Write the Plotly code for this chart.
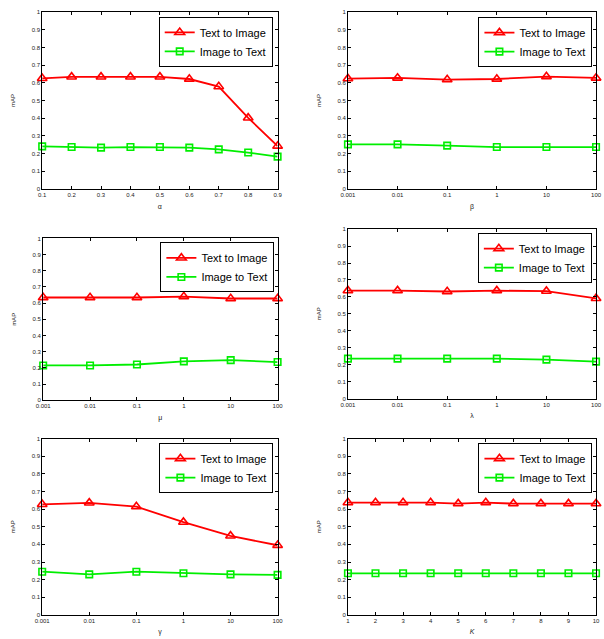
import plotly.graph_objects as go
from plotly.subplots import make_subplots

# ---- data -------------------------------------------------------------
alpha_vals = [0.1, 0.2, 0.3, 0.4, 0.5, 0.6, 0.7, 0.8, 0.9]
alpha_t2i = [0.626, 0.634, 0.634, 0.634, 0.634, 0.622, 0.579, 0.402, 0.243]
alpha_i2t = [0.241, 0.237, 0.234, 0.237, 0.237, 0.234, 0.224, 0.206, 0.183]

log_vals = [0.001, 0.01, 0.1, 1, 10, 100]
log_labels = ["0.001", "0.01", "0.1", "1", "10", "100"]

beta_t2i = [0.624, 0.628, 0.619, 0.622, 0.636, 0.628]
beta_i2t = [0.252, 0.252, 0.245, 0.237, 0.237, 0.237]

mu_t2i = [0.635, 0.635, 0.635, 0.641, 0.629, 0.629]
mu_i2t = [0.215, 0.215, 0.221, 0.240, 0.248, 0.236]

lambda_t2i = [0.637, 0.637, 0.632, 0.637, 0.634, 0.591]
lambda_i2t = [0.236, 0.236, 0.236, 0.236, 0.230, 0.218]

gamma_t2i = [0.627, 0.635, 0.614, 0.526, 0.448, 0.395]
gamma_i2t = [0.245, 0.230, 0.245, 0.236, 0.230, 0.227]

k_vals = [1, 2, 3, 4, 5, 6, 7, 8, 9, 10]
k_t2i = [0.637, 0.637, 0.637, 0.637, 0.631, 0.637, 0.631, 0.631, 0.631, 0.631]
k_i2t = [0.236] * 10

y_ticks = [0, 0.1, 0.2, 0.3, 0.4, 0.5, 0.6, 0.7, 0.8, 0.9, 1]
y_tick_text = ["0", "0.1", "0.2", "0.3", "0.4", "0.5", "0.6", "0.7", "0.8", "0.9", "1"]

# ---- panels -------------------------------------------------------------
W, H = 604, 639
panels = [
    # box px: left, right, top, bottom; legend px: right, top
    dict(row=1, col=1, x=alpha_vals, t2i=alpha_t2i, i2t=alpha_i2t, xlabel="α", kind="lin",
         box=(35, 276, 9.3, 187.7), leg=(271, 14)),
    dict(row=1, col=2, x=log_vals, t2i=beta_t2i, i2t=beta_i2t, xlabel="β", kind="log",
         box=(348, 602, 9.3, 187.7), leg=(598.3, 14.3)),
    dict(row=2, col=1, x=log_vals, t2i=mu_t2i, i2t=mu_i2t, xlabel="μ", kind="log",
         box=(36, 276, 237.7, 401), leg=(272.7, 241.7)),
    dict(row=2, col=2, x=log_vals, t2i=lambda_t2i, i2t=lambda_i2t, xlabel="λ", kind="log",
         box=(348, 602, 228.3, 399.3), leg=(597.7, 232.3)),
    dict(row=3, col=1, x=log_vals, t2i=gamma_t2i, i2t=gamma_i2t, xlabel="γ", kind="log",
         box=(35, 276, 439.7, 617.7), leg=(271.7, 444.3)),
    dict(row=3, col=2, x=k_vals, t2i=k_t2i, i2t=k_i2t, xlabel="<i>K</i>", kind="lin",
         box=(348, 602, 439.7, 617.7), leg=(598.3, 444.3)),
]

RED = "#ff0000"
GREEN = "#00ee00"
FONT = "Liberation Sans, Arial, sans-serif"

fig = make_subplots(rows=3, cols=2)

for i, p in enumerate(panels):
    leg_name = "legend" if i == 0 else f"legend{i + 1}"
    fig.add_trace(go.Scatter(
        x=p["x"], y=p["t2i"], mode="lines+markers", name="Text to Image",
        line=dict(color=RED, width=1.8),
        marker=dict(symbol="triangle-up-open", size=8.5, color=RED, line=dict(width=1.6, color=RED)),
        cliponaxis=False, legend=leg_name, showlegend=True,
    ), row=p["row"], col=p["col"])
    fig.add_trace(go.Scatter(
        x=p["x"], y=p["i2t"], mode="lines+markers", name="Image to Text",
        line=dict(color=GREEN, width=1.8),
        marker=dict(symbol="square-open", size=6.5, color=GREEN, line=dict(width=1.6, color=GREEN)),
        cliponaxis=False, legend=leg_name, showlegend=True,
    ), row=p["row"], col=p["col"])

    l, r, t, b = p["box"]
    xdom = [l / W, min(r / W, 1.0)]
    ydom = [1 - b / H, 1 - t / H]
    axis_common = dict(
        showline=True, linecolor="black", linewidth=1, mirror="ticks",
        ticks="inside", ticklen=3, tickwidth=1, tickcolor="black",
        showgrid=False, zeroline=False,
        tickfont=dict(family=FONT, size=6, color="#222"),
    )
    if p["kind"] == "log":
        xaxis = dict(type="log", range=[-3, 2], tickvals=log_vals, ticktext=log_labels)
    else:
        xs = p["x"]
        xaxis = dict(type="linear", range=[xs[0], xs[-1]], tickvals=xs,
                     ticktext=[f"{v:g}" for v in xs])
    fig.update_xaxes(domain=xdom, **xaxis, **axis_common,
                     title=dict(text=p["xlabel"], font=dict(family=FONT, size=7, color="#222"), standoff=6),
                     row=p["row"], col=p["col"])
    fig.update_yaxes(domain=ydom, range=[0, 1], tickvals=y_ticks, ticktext=y_tick_text,
                     **axis_common,
                     title=dict(text="mAP", font=dict(family=FONT, size=6, color="#222"), standoff=15),
                     row=p["row"], col=p["col"])

    lx, ly = p["leg"]
    fig.update_layout({leg_name: dict(
        x=lx / W, y=1 - ly / H, xanchor="right", yanchor="top",
        bgcolor="white", bordercolor="black", borderwidth=1,
        font=dict(family=FONT, size=11, color="black"),
        tracegroupgap=0, itemsizing="trace",
    )})

fig.update_layout(
    width=W, height=H,
    margin=dict(l=0, r=0, t=0, b=0),
    paper_bgcolor="white", plot_bgcolor="white",
)

fig.write_html("out.html")
